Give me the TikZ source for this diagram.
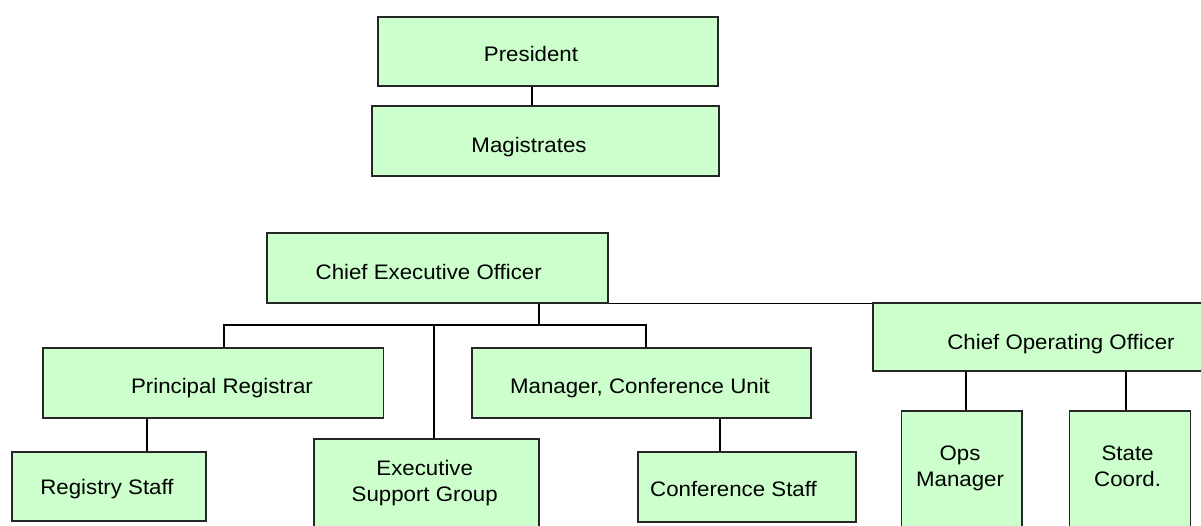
\documentclass[tikz,border=0pt]{standalone}
\usepackage{fontspec}
\setmainfont{Liberation Sans}[FakeStretch=1.06]
\begin{document}
\begin{tikzpicture}[x=1pt,y=-1pt,
  box/.style={draw=black!85, line width=1.3pt, fill=boxgreen, inner sep=0pt},
  txt/.style={inner sep=0pt, anchor=base, align=center, font=\fontsize{21}{26}\selectfont},
  conn/.style={draw=black, line width=1.8pt}]
\definecolor{boxgreen}{HTML}{CCFFCC}
\useasboundingbox (0,0) rectangle (1201,525);
\fill[white] (0,0) rectangle (1201,525);
\clip (0,0) rectangle (1201,525);
% boxes
\node[box, minimum width=340pt, minimum height=69pt] (pres) at (548,51.5) {};
\node[box, minimum width=347pt, minimum height=70pt] (mag) at (545.5,141) {};
\node[box, minimum width=341pt, minimum height=70pt] (ceo) at (437.5,268) {};
\node[box, minimum width=340.5pt, minimum height=70pt] (pr) at (213.25,383) {};
\node[box, minimum width=194pt, minimum height=69pt] (rs) at (109,486.5) {};
\node[box, minimum width=225pt, minimum height=121pt] (esg) at (426.5,499.5) {};
\node[box, minimum width=339pt, minimum height=70pt] (mcu) at (641.5,383) {};
\node[box, minimum width=218pt, minimum height=70pt] (cs) at (747,487) {};
\node[box, minimum width=342pt, minimum height=68pt] (coo) at (1044,337) {};
\node[box, minimum width=120.5pt, minimum height=149pt] (ops) at (961.75,485.5) {};
\node[box, minimum width=121.2pt, minimum height=149pt] (sc) at (1130.1,485.5) {};
% texts
\node[txt] (tpres) at (531,61) {President};
\node[txt] (tmag) at (529,152) {Magistrates};
\node[txt] (tceo) at (428.7,279.3) {Chief Executive Officer};
\node[txt] (tpr) at (222,393.3) {Principal Registrar};
\node[txt] (trs) at (107,494) {Registry Staff};
\node[txt] (tesg1) at (424.7,475) {Executive};
\node[txt] (tesg2) at (424.7,501) {Support Group};
\node[txt] (tmcu) at (640,393.3) {Manager, Conference Unit};
\node[txt] (tcs) at (733.5,496) {Conference Staff};
\node[txt] (tcoo) at (1061,349.3) {Chief Operating Officer};
\node[txt] (tops1) at (960,460.7) {Ops};
\node[txt] (tops2) at (960,486.7) {Manager};
\node[txt] (tsc1) at (1127.6,460.7) {State};
\node[txt] (tsc2) at (1127.6,486.7) {Coord.};
% connector coordinates
\coordinate (presx) at (532,0);
\coordinate (ceox) at (538.6,0);
\coordinate (busL) at (224,325);
\coordinate (busM) at (434,325);
\coordinate (busR) at (646,325);
\coordinate (rsx) at (147,0);
\coordinate (csx) at (720,0);
\coordinate (opsx) at (966,0);
\coordinate (scx) at (1125.7,0);
% connectors
\draw[conn] (pres.south -| presx) -- (mag.north -| presx);
\draw[conn] (ceo.south -| ceox) -- (busL -| ceox);
\draw[conn] (pr.north -| busL) -- (busL) -- (busR) -- (mcu.north -| busR);
\draw[conn] (busM) -- (esg.north -| busM);
\draw[conn] (pr.south -| rsx) -- (rs.north -| rsx);
\draw[conn] (mcu.south -| csx) -- (cs.north -| csx);
\draw[conn, line width=1.5pt] (ceo.south east) -- (ceo.south east -| coo.north west);
\draw[conn] (coo.south -| opsx) -- (ops.north -| opsx);
\draw[conn] (coo.south -| scx) -- (sc.north -| scx);
\end{tikzpicture}
\end{document}
